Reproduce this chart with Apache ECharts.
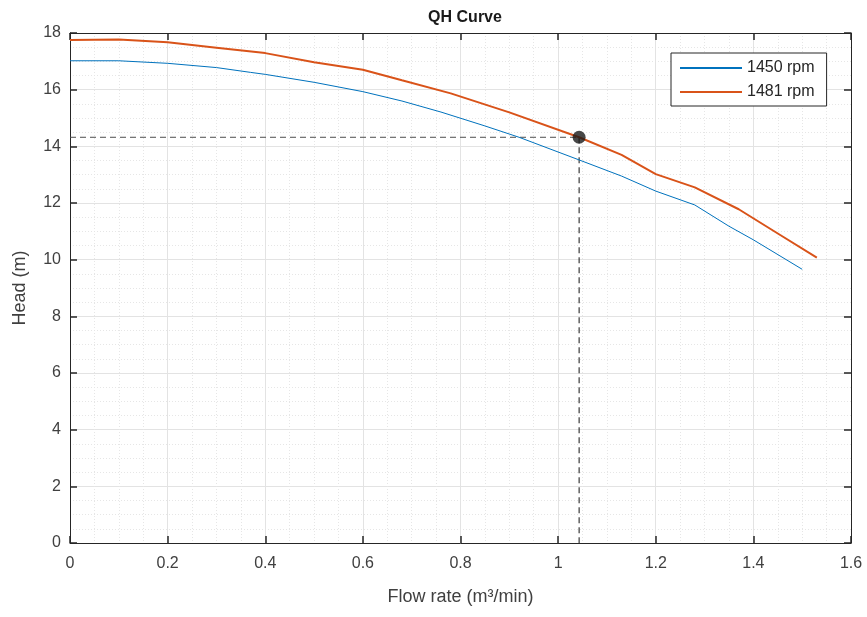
<!DOCTYPE html>
<html>
<head>
<meta charset="utf-8">
<script src="https://cdn.jsdelivr.net/npm/echarts@6/dist/echarts.min.js"></script>
<style>html,body{margin:0;padding:0;background:#fff}#c{width:867px;height:617px}</style>
</head>
<body>
<div id="c"></div>
<script>
// Data
const flow1450 = [0, 0.1, 0.2, 0.3, 0.37, 0.4, 0.5, 0.6, 0.68, 0.76, 0.85, 0.92, 1.043, 1.13, 1.2, 1.28, 1.35, 1.4, 1.5];
const head1450 = [17.02, 17.02, 16.93, 16.78, 16.61, 16.54, 16.26, 15.93, 15.6, 15.21, 14.72, 14.32, 13.52, 12.95, 12.42, 11.93, 11.18, 10.7, 9.66];
const flow1481 = [0, 0.1, 0.2, 0.3, 0.4, 0.5, 0.6, 0.68, 0.78, 0.9, 1.043, 1.13, 1.2, 1.28, 1.37, 1.455, 1.53];
const head1481 = [17.75, 17.77, 17.67, 17.48, 17.29, 16.97, 16.7, 16.33, 15.87, 15.2, 14.32, 13.7, 13.02, 12.55, 11.78, 10.87, 10.07];
const opFlow = 1.043;
const opHead = 14.32;
const seriesNames = ['1450 rpm', '1481 rpm'];
const xTicks = [0, 1.6, 0.2];
const yTicks = [0, 18, 2];

const pair = (xs, ys) => xs.map((x, i) => [x, ys[i]]);
const FONT = 'Liberation Sans, Arial, Helvetica, sans-serif';
const AX = '#262626';
const LBL = '#404040';

const chart = echarts.init(document.getElementById('c'), null, {renderer: 'canvas'});
const baseX = {
  type: 'value', min: xTicks[0], max: xTicks[1], interval: xTicks[2],
  axisLine: {show: true, onZero: false, lineStyle: {color: AX, width: 1}},
  axisTick: {show: true, inside: true, length: 7, lineStyle: {color: AX, width: 1.5}},
};
const baseY = {
  type: 'value', min: yTicks[0], max: yTicks[1], interval: yTicks[2],
  axisLine: {show: true, onZero: false, lineStyle: {color: AX, width: 1}},
  axisTick: {show: true, inside: true, length: 7, lineStyle: {color: AX, width: 1.5}},
};
chart.setOption({
  animation: false,
  backgroundColor: '#ffffff',
  title: {
    text: 'QH Curve', left: 460, top: 5, textAlign: 'center',
    textStyle: {fontFamily: FONT, fontSize: 16, fontWeight: 'bold', color: '#1a1a1a'}
  },
  grid: {left: 70, right: 16, top: 33, bottom: 74, containLabel: false},
  legend: {
    data: seriesNames, orient: 'vertical', left: 671, top: 53,
    backgroundColor: '#fff', borderColor: AX, borderWidth: 1,
    padding: [7, 12, 6, 8], itemGap: 8, itemWidth: 62, itemHeight: 14,
    itemStyle: {opacity: 0},
    textStyle: {fontFamily: FONT, fontSize: 16, color: '#262626'}
  },
  xAxis: [
    Object.assign({}, baseX, {
      position: 'bottom',
      name: 'Flow rate (m³/min)', nameLocation: 'middle', nameGap: 45,
      nameTextStyle: {fontFamily: FONT, fontSize: 18, color: LBL},
      axisLabel: {fontFamily: FONT, fontSize: 16, color: LBL, margin: 13,
        formatter: v => String(+v.toFixed(1))},
      splitLine: {show: true, lineStyle: {color: '#e3e3e3', width: 1}},
      minorTick: {show: false, splitNumber: 4},
      minorSplitLine: {show: true, lineStyle: {color: '#e6e6e6', width: 1, type: [1, 2]}}
    }),
    Object.assign({}, baseX, {
      position: 'top', axisLabel: {show: false}, splitLine: {show: false}
    })
  ],
  yAxis: [
    Object.assign({}, baseY, {
      position: 'left',
      name: 'Head (m)', nameLocation: 'middle', nameGap: 41, nameRotate: 90,
      nameTextStyle: {fontFamily: FONT, fontSize: 18, color: LBL},
      axisLabel: {fontFamily: FONT, fontSize: 16, color: LBL, margin: 9},
      splitLine: {show: true, lineStyle: {color: '#e3e3e3', width: 1}},
      minorTick: {show: false, splitNumber: 4},
      minorSplitLine: {show: true, lineStyle: {color: '#e6e6e6', width: 1, type: [1, 2]}}
    }),
    Object.assign({}, baseY, {
      position: 'right', axisLabel: {show: false}, splitLine: {show: false}
    })
  ],
  series: [
    {
      name: 'guideH', type: 'line', data: [[0, opHead], [opFlow, opHead]],
      symbol: 'none', silent: true, z: 3,
      lineStyle: {color: '#4d4d4d', width: 1, type: [6, 4]}
    },
    {
      name: 'guideV', type: 'line', data: [[opFlow, opHead], [opFlow, 0]],
      symbol: 'none', silent: true, z: 3,
      lineStyle: {color: '#111111', width: 1, type: [6, 4]}
    },
    {
      name: seriesNames[0], type: 'line', data: pair(flow1450, head1450),
      symbol: 'none', z: 4, color: '#0072BD',
      lineStyle: {color: '#0072BD', width: 1}
    },
    {
      name: seriesNames[1], type: 'line', data: pair(flow1481, head1481),
      symbol: 'none', z: 5, color: '#D95319',
      lineStyle: {color: '#D95319', width: 2}
    },
    {
      name: 'op', type: 'scatter', data: [[opFlow, opHead]],
      symbol: 'circle', symbolSize: 13, z: 6,
      itemStyle: {color: '#1a1a1a'}
    }
  ]
});
</script>
</body>
</html>
